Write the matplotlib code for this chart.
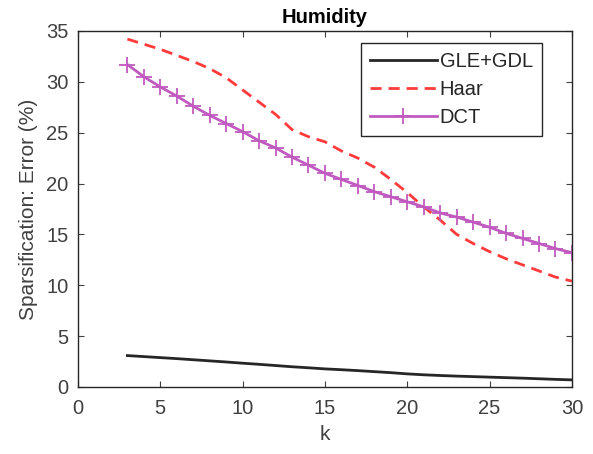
import matplotlib
matplotlib.use("Agg")
import matplotlib.pyplot as plt
import numpy as np

plt.rcParams['font.family'] = ['Liberation Sans', 'DejaVu Sans']

k = list(range(3, 31))

gle_gdl = [3.08, 2.98, 2.88, 2.78, 2.67, 2.56, 2.45, 2.33, 2.22, 2.10, 1.98, 1.88, 1.77,
           1.69, 1.60, 1.50, 1.40, 1.28, 1.19, 1.12, 1.06, 1.01, 0.96, 0.91, 0.86,
           0.80, 0.74, 0.69]
haar = [34.2, 33.7, 33.2, 32.6, 32.0, 31.3, 30.4, 29.2, 28.0, 26.8, 25.3, 24.6, 24.1,
        23.2, 22.5, 21.6, 20.4, 19.1, 17.7, 16.4, 15.0, 14.1, 13.3, 12.6, 12.0,
        11.4, 10.8, 10.4]
dct = [31.7, 30.5, 29.5, 28.6, 27.6, 26.7, 25.9, 25.1, 24.2, 23.5, 22.6, 21.8, 21.0,
       20.4, 19.8, 19.2, 18.7, 18.2, 17.7, 17.1, 16.7, 16.2, 15.7, 15.1, 14.6,
       14.1, 13.6, 13.2]

fig = plt.figure(figsize=(5.93, 4.54), dpi=100)
ax = fig.add_axes([0.1315, 0.1478, 0.833, 0.784])

ax.plot(k, gle_gdl, '-', color='#262626', linewidth=2, label='GLE+GDL')
ax.plot(k, haar, '--', color='#ff3b3b', linewidth=2, dashes=(4, 2.5), label='Haar')
ax.plot(k, dct, '-', color='#c05ac0', linewidth=2, marker='+', markersize=12,
        markeredgewidth=1.3, label='DCT')

ax.set_xlim(0, 30)
ax.set_ylim(0, 35)
ax.set_xticks(range(0, 31, 5))
ax.set_yticks(range(0, 36, 5))
ax.tick_params(direction='in', top=True, right=True, labelsize=14.5, length=4,
               colors='#404040')
ax.tick_params(axis='x', pad=9)
ax.tick_params(axis='y', pad=7)
for s in ax.spines.values():
    s.set_color('#262626')
    s.set_linewidth(1)

ax.set_xlabel('k', fontsize=15, color='#404040', labelpad=5)
ax.set_ylabel('Sparsification: Error (%)', fontsize=15, color='#404040', labelpad=6)
ax.set_title('Humidity', fontsize=14.5, fontweight='bold', pad=6)

leg = ax.legend(loc='upper right', bbox_to_anchor=(0.939, 0.966), fontsize=14.5,
                fancybox=False, framealpha=1, edgecolor='#262626', handlelength=3.3,
                handletextpad=0.15, borderpad=0.45, labelspacing=0.45, borderaxespad=0)
leg.get_frame().set_linewidth(1)
for t in leg.get_texts():
    t.set_color('#262626')

fig.savefig('out.png', dpi=100)
